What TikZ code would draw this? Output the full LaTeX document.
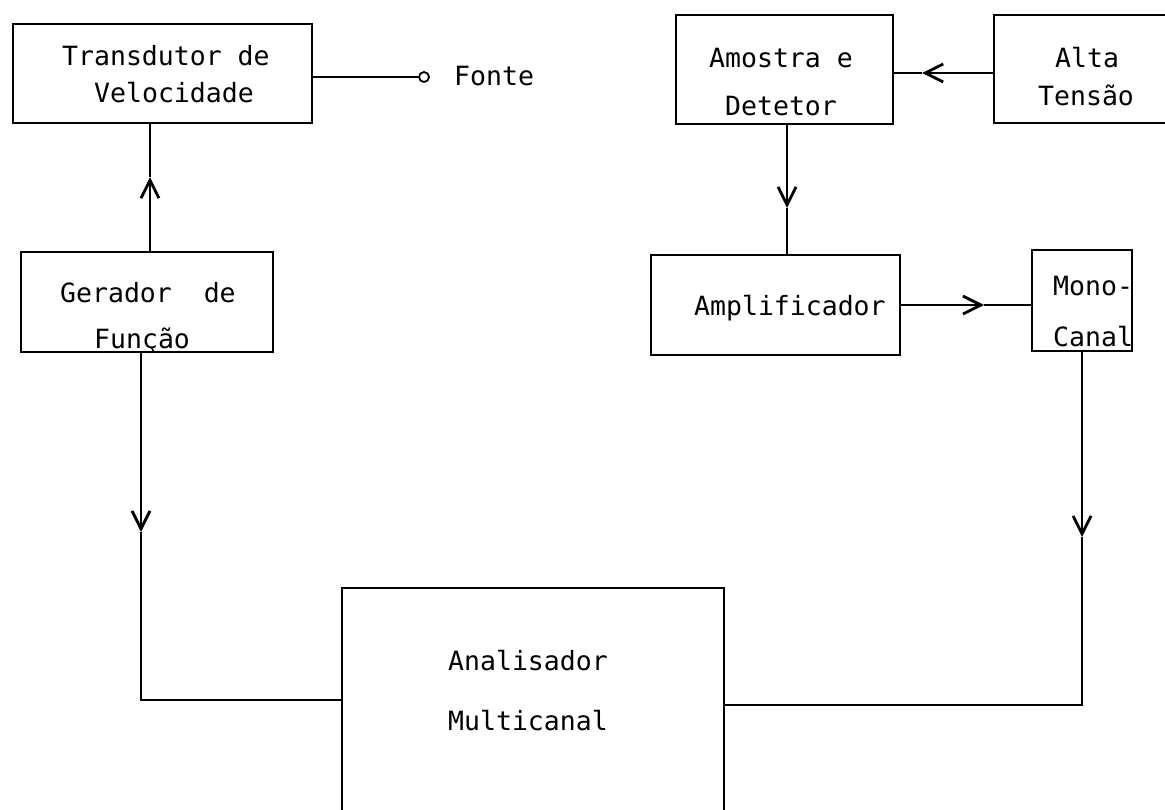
\documentclass[tikz,border=0pt]{standalone}
\usepackage{fontspec}
\setmainfont{DejaVu Sans Mono}
\usetikzlibrary{arrows.meta}
\begin{document}
\begin{tikzpicture}[x=1pt,y=-1pt,
  box/.style={draw, line width=2pt, inner sep=0pt, rectangle},
  conn/.style={line width=2.8pt},
  tipend/.style={-{Straight Barb[length=18pt,width=18pt,line width=2.8pt]}},
  lbl/.style={anchor=base west, inner sep=0pt, font=\fontsize{26.5}{30}\selectfont}
]
\useasboundingbox (0,0) rectangle (1165,809);
\clip (0,0) rectangle (1165,809);

% boxes
\node[box, minimum width=299pt, minimum height=99pt] (tr) at (162.5,73.5) {};
\node[box, minimum width=252pt, minimum height=100pt] (ger) at (147,302) {};
\node[box, minimum width=217pt, minimum height=109pt] (am) at (784.5,69.5) {};
\node[box, minimum width=186pt, minimum height=108pt] (al) at (1087,69) {};
\node[box, minimum width=249pt, minimum height=100pt] (amp) at (775.5,305) {};
\node[box, minimum width=100pt, minimum height=101pt] (mono) at (1082,300.5) {};
\node[box, minimum width=382pt, minimum height=264pt] (ana) at (533,720) {};
\node[draw, circle, line width=1.8pt, inner sep=0pt, minimum size=10pt] (fo) at (424,77) {};

% texts
\node[lbl] (tr1) at (62,65) {Transdutor de};
\node[lbl] (tr2) at (94,102) {Velocidade};
\node[lbl] (fonte) at (454,85) {Fonte};
\node[lbl] (ger1) at (60,302) {Gerador\ \ de};
\node[lbl] (ger2) at (94,348) {Função};
\node[lbl] (am1) at (709,67) {Amostra e};
\node[lbl] (am2) at (725,115) {Detetor};
\node[lbl] (al1) at (1055,67) {Alta};
\node[lbl] (al2) at (1038,105) {Tensão};
\node[lbl] (amp1) at (694,315) {Amplificador};
\node[lbl] (mono1) at (1053,295) {Mono-};
\node[lbl] (mono2) at (1053,346) {Canal};
\node[lbl] (ana1) at (448,670) {Analisador};
\node[lbl] (ana2) at (448,730) {Multicanal};

% connectors
\draw[line width=2pt] (tr.east |- fo) -- (fo.west);

\coordinate (a1) at (150,177);
\draw[conn, tipend] (a1 |- ger.north) -- (a1);
\draw[conn] (a1) -- (a1 |- tr.south);

\coordinate (a2) at (141,532);
\coordinate (c2) at (141,700);
\draw[conn, tipend] (a2 |- ger.south) -- (a2);
\draw[conn] (a2) -- (c2) -- (c2 -| ana.west);

\coordinate (a3) at (922,73);
\draw[conn, tipend] (a3 -| al.west) -- (a3);
\draw[conn] (a3) -- (a3 -| am.east);

\coordinate (a4) at (787,208);
\draw[conn, tipend] (a4 |- am.south) -- (a4);
\draw[conn] (a4) -- (a4 |- amp.north);

\coordinate (a5) at (984,305);
\draw[conn, tipend] (a5 -| amp.east) -- (a5);
\draw[conn] (a5) -- (a5 -| mono.west);

\coordinate (a6) at (1082,537);
\coordinate (c6) at (1082,705);
\draw[conn, tipend] (a6 |- mono.south) -- (a6);
\draw[conn] (a6) -- (c6) -- (c6 -| ana.east);
\end{tikzpicture}
\end{document}
